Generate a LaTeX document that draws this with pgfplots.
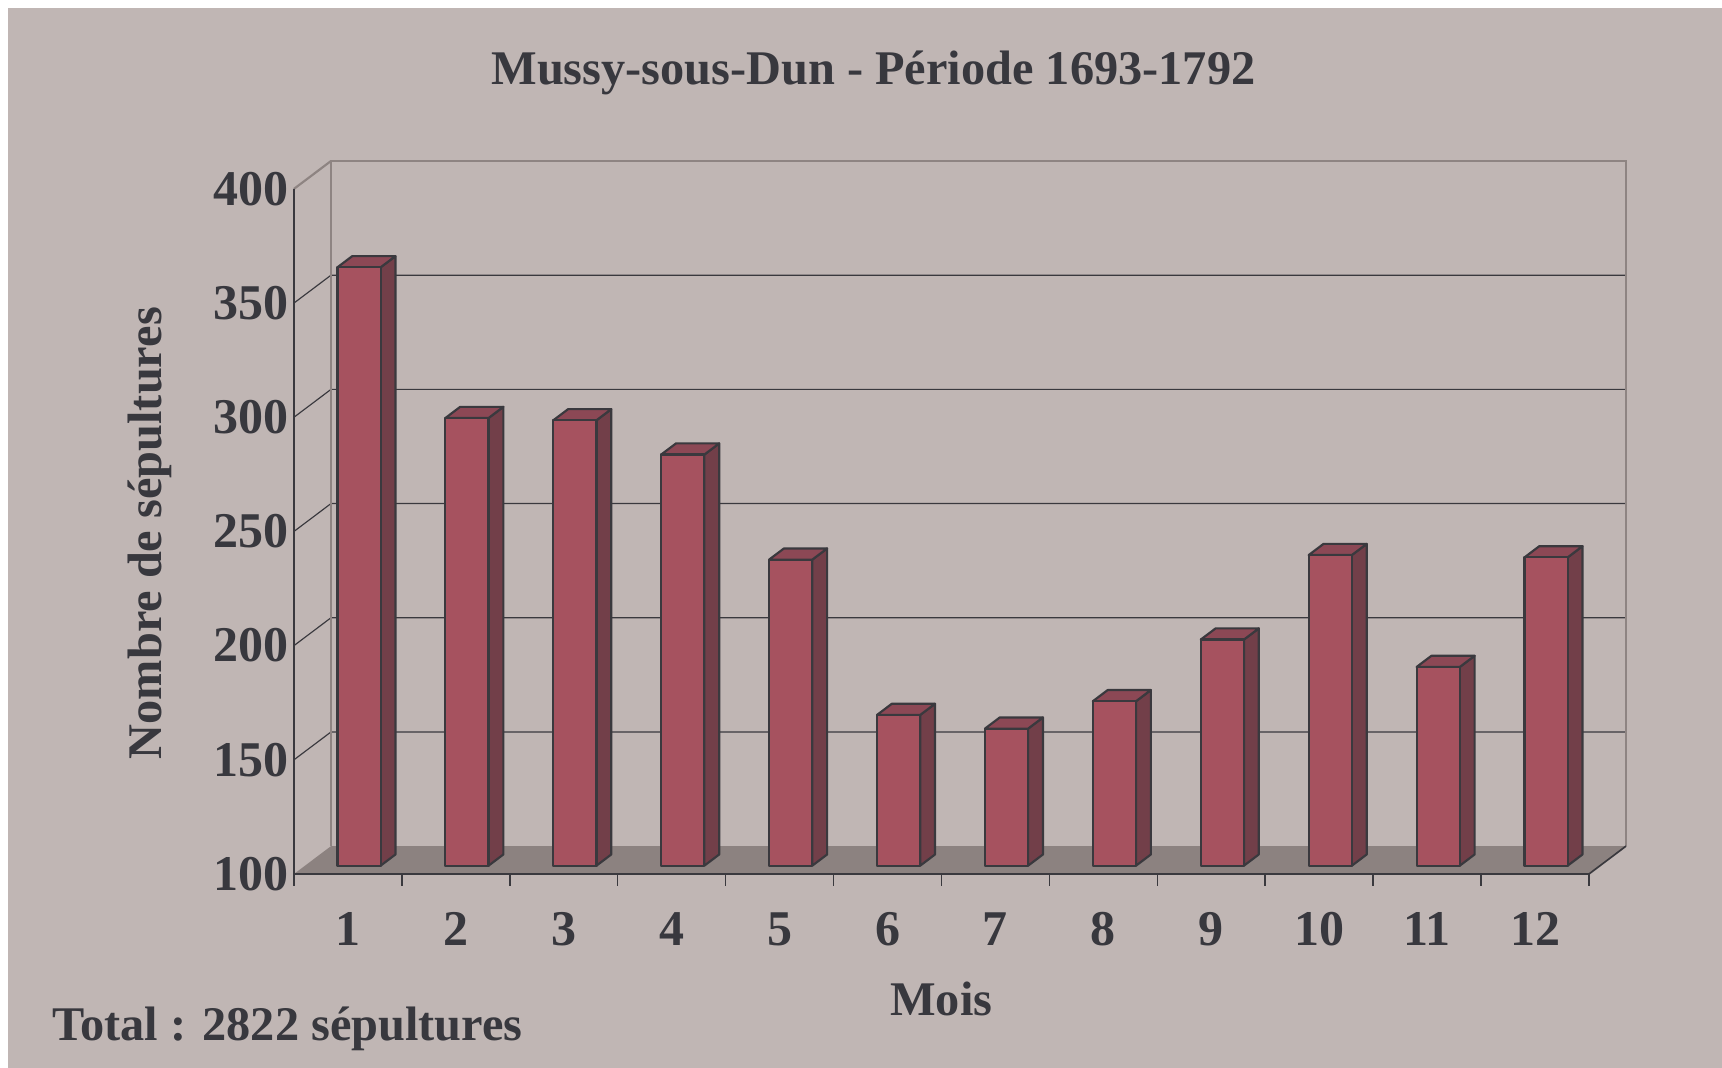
\documentclass[border=0pt]{standalone}
\usepackage{fontspec}
\setmainfont{Liberation Serif}
\usepackage{pgfplots}
\usepackage{pgfplotstable}
\pgfplotsset{compat=1.18}

\definecolor{bgc}{HTML}{C0B6B4}
\definecolor{floorc}{HTML}{8C8280}
\definecolor{wallc}{HTML}{8E8482}
\definecolor{darkc}{HTML}{3A393E}
\definecolor{textc}{HTML}{38383E}
\definecolor{barfront}{HTML}{A6525F}
\definecolor{barside}{HTML}{723F49}
\definecolor{bartop}{HTML}{8C4855}

% sepultures par mois, 1693-1792
\pgfplotstableread{
mois n
1  362
2  296
3  295
4  280
5  234
6  166
7  160
8  172
9  199
10 236
11 187
12 235
}\sepultures

\begin{document}
\begin{tikzpicture}
  % page background (white strip top and left)
  \fill[white] (-88.2pt,-58.2pt) rectangle (428.4pt,262.2pt);
  \fill[bgc] (-85.8pt,-58.2pt) rectangle (428.4pt,259.8pt);

  \begin{axis}[
    scale only axis,
    width=399.6pt, height=213.9pt,
    xmin=0.5, xmax=12.843,
    ymin=100, ymax=412.2,
    clip=false,
    axis line style={draw=none},
    xtick={1,...,12},
    ytick={100,150,...,400},
    major tick length=0pt,
    /pgf/number format/assume math mode=true,
    tick label style={font=\fontsize{15}{15}\selectfont\bfseries, text=textc},
    xticklabel style={yshift=-8pt},
    yticklabel style={inner sep=0pt, xshift=-1.3pt},
    label style={font=\fontsize{14.5}{15}\selectfont\bfseries, text=textc},
    xlabel={Mois},
    xlabel style={at={(axis description cs:0.486,-0.175)}, anchor=center},
    ylabel={Nombre de sépultures},
    ylabel style={at={(axis description cs:-0.108,0.478)}, anchor=center},
    title={Mussy-sous-Dun - Période 1693-1792},
    title style={at={(axis description cs:0.435,1.096)}, anchor=center,
      font=\fontsize{14.5}{15}\selectfont\bfseries, text=textc},
  ]
    % floor
    \addplot[fill=floorc, draw=none] coordinates
      {(0.5,100) (12.5,100) (12.843,112.2) (0.843,112.2)} --cycle;
    % grid lines on left and back walls
    \addplot[darkc, line width=0.35pt] coordinates {(0.5,150) (0.843,162.2) (12.843,162.2)};
    \addplot[darkc, line width=0.35pt] coordinates {(0.5,200) (0.843,212.2) (12.843,212.2)};
    \addplot[darkc, line width=0.35pt] coordinates {(0.5,250) (0.843,262.2) (12.843,262.2)};
    \addplot[darkc, line width=0.35pt] coordinates {(0.5,300) (0.843,312.2) (12.843,312.2)};
    \addplot[darkc, line width=0.35pt] coordinates {(0.5,350) (0.843,362.2) (12.843,362.2)};
    % back wall frame
    \addplot[wallc, line width=0.65pt] coordinates
      {(0.843,112.2) (0.843,412.2) (12.843,412.2) (12.843,112.2)};
    \addplot[wallc, line width=0.65pt] coordinates {(0.5,400) (0.843,412.2)};
    % front edges
    \addplot[darkc, line width=0.5pt] coordinates {(0.5,400) (0.5,100) (12.5,100) (12.843,112.2)};
    \pgfplotsinvokeforeach{0.5,1.5,...,12.5}{
      \draw[darkc, line width=0.45pt] (axis cs:#1,100) -- ++(0pt,-3.6pt);
    }

    % bars: front face, side and top
    \pgfplotsforeachungrouped \i in {0,...,11}{
      \pgfplotstablegetelem{\i}{mois}\of\sepultures \let\m\pgfplotsretval
      \pgfplotstablegetelem{\i}{n}\of\sepultures \let\v\pgfplotsretval
      \pgfmathsetmacro\xl{\m-0.2+0.103}
      \pgfmathsetmacro\xr{\m+0.2+0.103}
      \pgfmathsetmacro\xlb{\xl+0.137}
      \pgfmathsetmacro\xrb{\xr+0.137}
      \pgfmathsetmacro\yt{\v+3.66}
      \pgfmathsetmacro\ytb{\v+3.66+4.88}
      \edef\cmd{%
        \noexpand\addplot[fill=barside, draw=darkc, line width=0.65pt, line join=round]
          coordinates {(\xr,103.66) (\xrb,108.54) (\xrb,\ytb) (\xr,\yt)} --cycle;
        \noexpand\addplot[fill=bartop, draw=darkc, line width=0.65pt, line join=round]
          coordinates {(\xl,\yt) (\xlb,\ytb) (\xrb,\ytb) (\xr,\yt)} --cycle;
        \noexpand\addplot[fill=barfront, draw=darkc, line width=0.65pt, line join=round]
          coordinates {(\xl,103.66) (\xr,103.66) (\xr,\yt) (\xl,\yt)} --cycle;
      }%
      \cmd
    }

    \node[anchor=west, font=\fontsize{14.5}{15}\selectfont\bfseries, text=textc]
      at (axis description cs:-0.190,-0.217) {Total : 2822 sépultures};
  \end{axis}
\end{tikzpicture}
\end{document}
